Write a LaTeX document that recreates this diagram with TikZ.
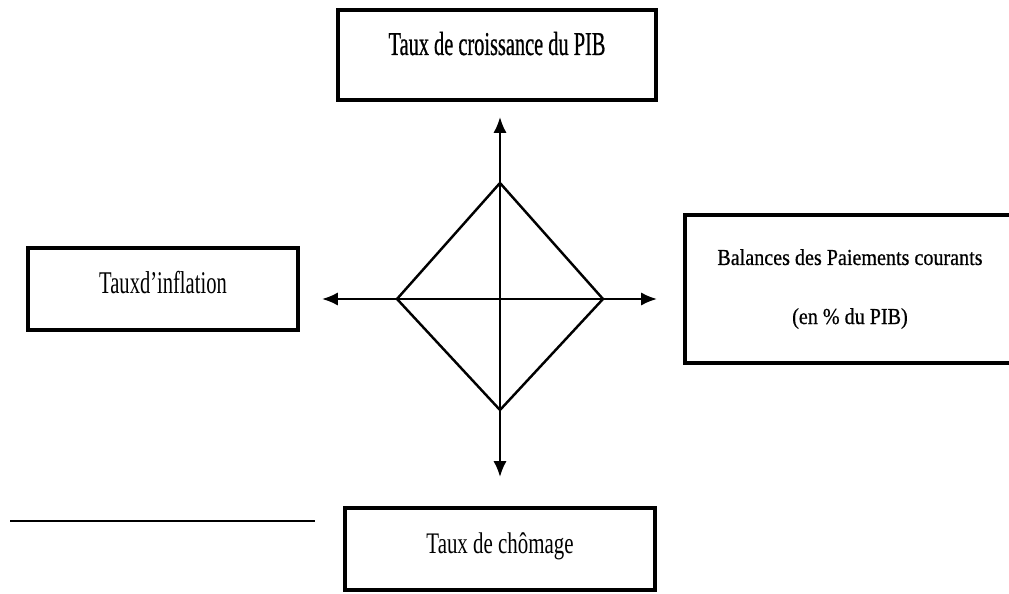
\documentclass[tikz,border=0pt]{standalone}
\usepackage{fontspec}
\setmainfont{Liberation Serif}
\usetikzlibrary{arrows.meta}
\begin{document}
\begin{tikzpicture}[x=0.02cm,y=-0.02cm]
	\tikzstyle{box}=[draw=black,line width=1.8pt,rectangle,inner sep=0pt]
	\tikzstyle{axis}=[black,line width=1.3pt,{Latex[length=9pt,width=7.5pt]}-{Latex[length=9pt,width=7.5pt]}]
	\useasboundingbox (0,0) rectangle (1009,594);
	% the four indicators
	\node[box,minimum width=6.36cm,minimum height=1.8cm,text height=7pt,text depth=7pt,
		font=\fontsize{19}{22}\addfontfeatures{FakeStretch=0.61,FakeBold=0.6}] (pib) at (497,55) {Taux de croissance du PIB};
	\node[box,minimum width=5.4cm,minimum height=1.64cm,text height=8pt,text depth=3.4pt,
		font=\fontsize{18}{21}\addfontfeatures{FakeStretch=0.65}] (inflation) at (163,289) {Tauxd'inflation};
	\node[box,minimum width=6.6cm,minimum height=2.96cm,align=center,
		font=\fontsize{13}{15.6}\addfontfeatures{FakeStretch=0.88,FakeBold=0.6}] (balance) at (850,289) {Balances des Paiements courants\\[18pt](en \% du PIB)};
	\node[box,minimum width=6.2cm,minimum height=1.64cm,text height=8pt,text depth=3.4pt,
		font=\fontsize{17}{20}\addfontfeatures{FakeStretch=0.7}] (chomage) at (500,549) {Taux de chômage};
	% the magic square
	\coordinate (dtop) at (500,183);
	\coordinate (dright) at (603,299);
	\coordinate (dbottom) at (500,410);
	\coordinate (dleft) at (397,299);
	\coordinate (north) at (500,117);
	\coordinate (south) at (500,477);
	\coordinate (west) at (322,299);
	\coordinate (east) at (657,299);
	\draw [black,line width=1.4pt,line join=miter] (dtop) -- (dright) -- (dbottom) -- (dleft) -- cycle;
	\draw [axis] (south) -- (north);
	\draw [axis] (west) -- (east);
	% rule at the bottom left
	\coordinate (rulea) at (10,521);
	\coordinate (ruleb) at (315,521);
	\draw [black,line width=1.4pt] (rulea) -- (ruleb);
\end{tikzpicture}
\end{document}
